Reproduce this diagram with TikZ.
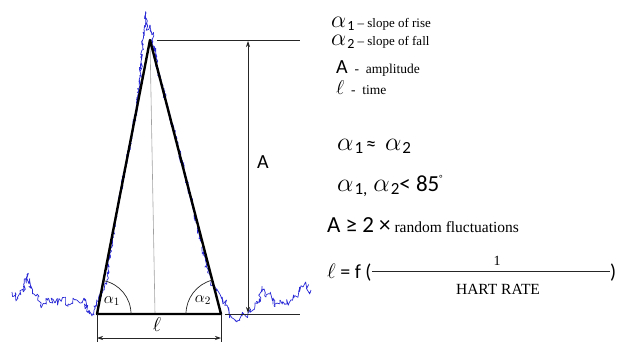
\RequirePackage{fix-cm}
\documentclass[tikz,border=0pt]{standalone}
\usepackage{fontspec}
\setmainfont{Liberation Serif}
\newfontfamily\calfont{Carlito}
\usetikzlibrary{arrows.meta}
\definecolor{SigBlue}{HTML}{2A2AD6}
\definecolor{MidGray}{HTML}{A0A0A0}
\newcommand{\fsz}[1]{\fontsize{#1}{#1}\selectfont}

\begin{document}
\begin{tikzpicture}[x=1pt, y=-1pt,
        sig/.style={draw=SigBlue, line width=0.7pt, line join=round},
        tri/.style={draw=black, line width=2.4pt, line join=round},
        dim/.style={draw=black!85, line width=0.7pt},
        dimarr/.style={dim, {Stealth[length=6pt,width=4pt]}-{Stealth[length=6pt,width=4pt]}},
        lab/.style={inner sep=0pt, anchor=base west},
      ]
      \useasboundingbox (0,0) rectangle (626,342);

      \coordinate (top) at (150,40);
      \coordinate (bl) at (97,314);
      \coordinate (br) at (221,314);
      \coordinate (foot) at (155,314);
      \coordinate (topL) at (157,40);
      \coordinate (topR) at (300,40);
      \coordinate (botL) at (225,314);
      \coordinate (botR) at (300,314);
      \coordinate (aTop) at (248,41);
      \coordinate (aBot) at (248,313);
      \coordinate (blLow) at (97,342);
      \coordinate (brLow) at (221,342);
      \coordinate (lArrL) at (97,338);
      \coordinate (lArrR) at (221,338);

      \pgfmathsetseed{42}
      \foreach \xb/\yb/\n [remember=\xb as \xa (initially 12), remember=\yb as \ya (initially 292)] in
        {18/298/4, 23/291/4, 27/275/4, 31/288/4, 36/296/4, 42/306/4, 48/298/4, 55/303/4,
         62/299/4, 68/304/4, 75/300/4, 80/303/4, 84/298/4, 88/311/4, 92/316/4, 96/305/3,
         99/296/3, 103/290/3, 107/280/3, 110/255/3, 115/225/3, 121/190/3, 129/150/3,
         136/112/3, 140/75/3, 142/50/4, 144/30/4, 146/13/3, 147/30/3, 150/25/3, 152/35/3,
         156/60/4, 163/90/3, 171/120/3, 180/155/3, 188/185/4, 192/205/3, 198/228/3,
         204/255/3, 208/270/4, 211/282/4, 216/290/4, 222/297/4, 227/305/4, 232/318/4,
         237/322/4, 242/316/4, 248/313/4, 253/310/4, 258/302/4, 262/289/4, 266/297/4,
         270/294/4, 274/306/4, 280/300/4, 287/304/4, 293/298/4, 299/292/4, 303/287/4,
         306/284/4, 309/292/4, 311/290/3}{
        \pgfmathtruncatemacro\ns{max(3,veclen(\xb-\xa,\yb-\ya)/1.2)}
        \draw[sig] plot[domain=0:1, samples=\ns, variable=\pp]
          ({\xa+(\xb-\xa)*\pp+0.4*\n*rand*(\pp>0.01)*(\pp<0.99)},
           {\ya+(\yb-\ya)*\pp+\n*rand*(\pp>0.01)*(\pp<0.99)});
      }

      \draw[draw=MidGray, line width=0.6pt] (top) -- (foot);
      \draw[tri] (bl) -- (top) -- (br) -- cycle;
      \draw[dim] (topL) -- (topR);
      \draw[dim] (botL) -- (botR);
      \draw[dimarr] (aTop) -- (aBot);
      \draw[dim] (bl) -- (blLow);
      \draw[dim] (br) -- (brLow);
      \draw[dimarr] (lArrL) -- (lArrR);
      \draw[dim] (bl) ++(34,0) arc[start angle=0, end angle=79, radius=34pt];
      \draw[dim] (br) ++(-35,0) arc[start angle=180, end angle=104.5, radius=35pt];

      \node[inner sep=0pt] (alphaA) at (112,301) {\fsz{16}$\alpha_1$};
      \node[inner sep=0pt] (alphaB) at (203,300) {\fsz{16}$\alpha_2$};
      \node[inner sep=0pt] (ampLab) at (263,162) {\calfont\fsz{20}A};
      \node[inner sep=0pt] (timeLab) at (157,325) {\fsz{20}$\ell$};

      \node[lab] (legRise) at (331,28) {\fsz{24}$\alpha$\hspace{1pt}\raisebox{-3pt}{\calfont\fsz{14}1}\fsz{13}\ -- slope of rise};
      \node[lab] (legFall) at (331,46) {\fsz{24}$\alpha$\hspace{1pt}\raisebox{-3pt}{\calfont\fsz{14}2}\fsz{13}\ -- slope of fall};
      \node[lab] (legAmp) at (336,74) {{\calfont\fsz{20}A}\fsz{13.5}\ \ -\ \ amplitude};
      \node[lab] (legTime) at (336,95) {{\fsz{20}$\ell$}\fsz{13.5}\ \ -\ \ time};

      \node[lab] (eqSame) at (337,150) {\fsz{26}$\alpha$\hspace{1pt}\raisebox{-3pt}{\calfont\fsz{17}1}\hspace{3pt}{\calfont\fsz{20}≈}\hspace{9pt}\fsz{26}$\alpha$\hspace{1pt}\raisebox{-3pt}{\calfont\fsz{17}2}};
      \node[lab] (eqLess) at (337,191) {\fsz{26}$\alpha$\hspace{1pt}\raisebox{-3pt}{\calfont\fsz{17}1,}\hspace{6pt}\fsz{26}$\alpha$\hspace{1pt}\raisebox{-3pt}{\calfont\fsz{17}2}{\calfont\fsz{23}< 85\raisebox{10pt}{\fsz{9}°}}};
      \node[lab] (eqAmp) at (327,232) {{\calfont\fsz{23}A ≥ 2 ×}\fsz{15.5}\ random fluctuations};
      \node[lab] (eqTime) at (327,278) {{\fsz{21}$\ell$}\calfont\fsz{20}\ = f (};
      \node[lab] (rpar) at (610,278) {\calfont\fsz{20})};
      \coordinate (fracL) at (372,271);
      \coordinate (fracR) at (610,271);
      \draw[dim] (fracL) -- (fracR);
      \node[inner sep=0pt] (num) at (497,261) {\fsz{14}1};
      \node[inner sep=0pt] (den) at (498,289) {\fsz{15.5}HART RATE};
    \end{tikzpicture}
\end{document}
